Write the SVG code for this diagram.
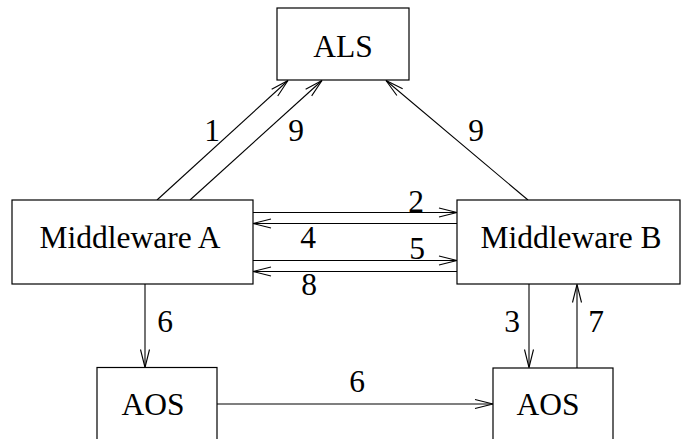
<svg xmlns="http://www.w3.org/2000/svg" width="688" height="439" viewBox="0 0 688 439">
<style>
.box{fill:#fff;stroke:#000;stroke-width:1.2}
.t{font-family:"Liberation Serif","Times New Roman",serif;font-size:31.5px;fill:#000;text-anchor:middle}
.c{fill:none;stroke:#000;stroke-width:1.1;marker-end:url(#ah)}
.p{fill:none;stroke:#000;stroke-width:1.1}
</style>
<defs>
<marker id="ah" markerUnits="userSpaceOnUse" viewBox="-20 -6 21 12" markerWidth="21" markerHeight="12" refX="0" refY="0" orient="auto" overflow="visible">
<path d="M-18,-4.5 L0,0 L-18,4.5" fill="none" stroke="#000" stroke-width="1.1"/>
</marker>
</defs>
<rect width="688" height="439" fill="#fff"/>
<g id="connectors">
<line class="c" x1="157" y1="200" x2="288" y2="80.5"/>
<line class="c" x1="190" y1="200" x2="322" y2="80.5"/>
<line class="c" x1="528" y1="200" x2="386" y2="80.5"/>
<line class="c" x1="253" y1="212.5" x2="457" y2="212.5"/>
<line class="c" x1="457" y1="223.5" x2="253" y2="223.5"/>
<line class="c" x1="253" y1="260.5" x2="457" y2="260.5"/>
<line class="c" x1="457" y1="271.5" x2="253" y2="271.5"/>
<line class="c" x1="145" y1="284" x2="145" y2="367.5"/>
<line class="c" x1="217" y1="404" x2="493" y2="404"/>
<line class="c" x1="529" y1="284" x2="529" y2="367.5"/>
<line class="c" x1="577" y1="368" x2="577" y2="284.5"/>
<text class="t" x="212" y="141">1</text>
<text class="t" x="296" y="141">9</text>
<text class="t" x="476" y="141">9</text>
<text class="t" x="416" y="212">2</text>
<text class="t" x="308" y="248">4</text>
<text class="t" x="417" y="259">5</text>
<text class="t" x="309" y="295">8</text>
<text class="t" x="165" y="332">6</text>
<text class="t" x="512" y="332">3</text>
<text class="t" x="596" y="332">7</text>
<text class="t" x="357" y="392">6</text>
</g>
<g id="als">
<rect class="box" x="277" y="8" width="132" height="72"/>
<text class="t" x="343" y="57">ALS</text>
</g>
<g id="middleware-a">
<rect class="box" x="12" y="200" width="241" height="84"/>
<text class="t" x="130" y="248">Middleware A</text>
</g>
<g id="middleware-b">
<rect class="box" x="457" y="200" width="223" height="84"/>
<text class="t" x="571" y="248">Middleware B</text>
</g>
<g id="aos-left">
<rect class="box" x="97" y="367.5" width="120" height="80"/>
<text class="t" x="153" y="415">AOS</text>
</g>
<g id="aos-right">
<rect class="box" x="493" y="368" width="120" height="80"/>
<text class="t" x="548" y="415">AOS</text>
</g>
</svg>
